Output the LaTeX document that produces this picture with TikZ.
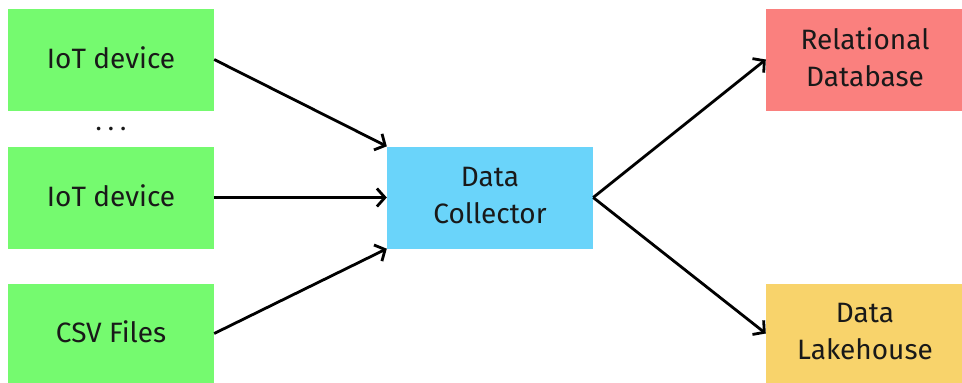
\documentclass[tikz,border=0pt]{standalone}
\usepackage{fontspec}
\setmainfont{Fira Sans}
\usetikzlibrary{arrows.meta}
\definecolor{srcgreen}{RGB}{117,250,111}
\definecolor{collblue}{RGB}{106,212,250}
\definecolor{dbred}{RGB}{250,128,126}
\definecolor{lakeyellow}{RGB}{248,211,107}
\tikzset{
  block/.style={rectangle, inner sep=0pt, minimum width=206pt, minimum height=102pt,
    align=center, font=\fontsize{28}{37}\selectfont, text=black!90},
  label/.style={yshift=2pt},
  flow/.style={line width=2.8pt, -{Straight Barb[length=8pt,width=18pt,line width=2.8pt]}}
}
\begin{document}
\begin{tikzpicture}[x=1pt,y=-1pt]
  \useasboundingbox (0,0) rectangle (962,383);
  % sources
  \node[block, fill=srcgreen] (iot1) at (111,59.5) {};
  \node[block, label] at (iot1) {IoT device};
  \node[inner sep=0pt, anchor=base, font=\fontsize{26}{26}\selectfont, text=black!90] (dots) at (111,130) {.\hspace{6pt}.\hspace{6pt}.};
  \node[block, fill=srcgreen] (iot2) at (111,197.5) {};
  \node[block, label] at (iot2) {IoT device};
  \node[block, fill=srcgreen, minimum height=100pt] (csv) at (111,333.5) {};
  \node[block, label] at (csv) {CSV Files};
  % collector
  \node[block, fill=collblue] (coll) at (490,197.5) {};
  \node[block, label] at (coll) {Data\\Collector};
  % sinks
  \node[block, fill=dbred, minimum width=198pt] (db) at (865,59.5) {};
  \node[block, label] at (db) {Relational\\Database};
  \node[block, fill=lakeyellow, minimum width=198pt, minimum height=100pt] (lake) at (865,333.5) {};
  \node[block, label] at (lake) {Data\\Lakehouse};
  % connectors
  \draw[flow] (iot1.east) -- (coll.north west);
  \draw[flow] (iot2.east) -- (coll.west);
  \draw[flow] (csv.east) -- (coll.south west);
  \draw[flow] (coll.east) -- (db.west);
  \draw[flow] (coll.east) -- (lake.west);
\end{tikzpicture}
\end{document}
